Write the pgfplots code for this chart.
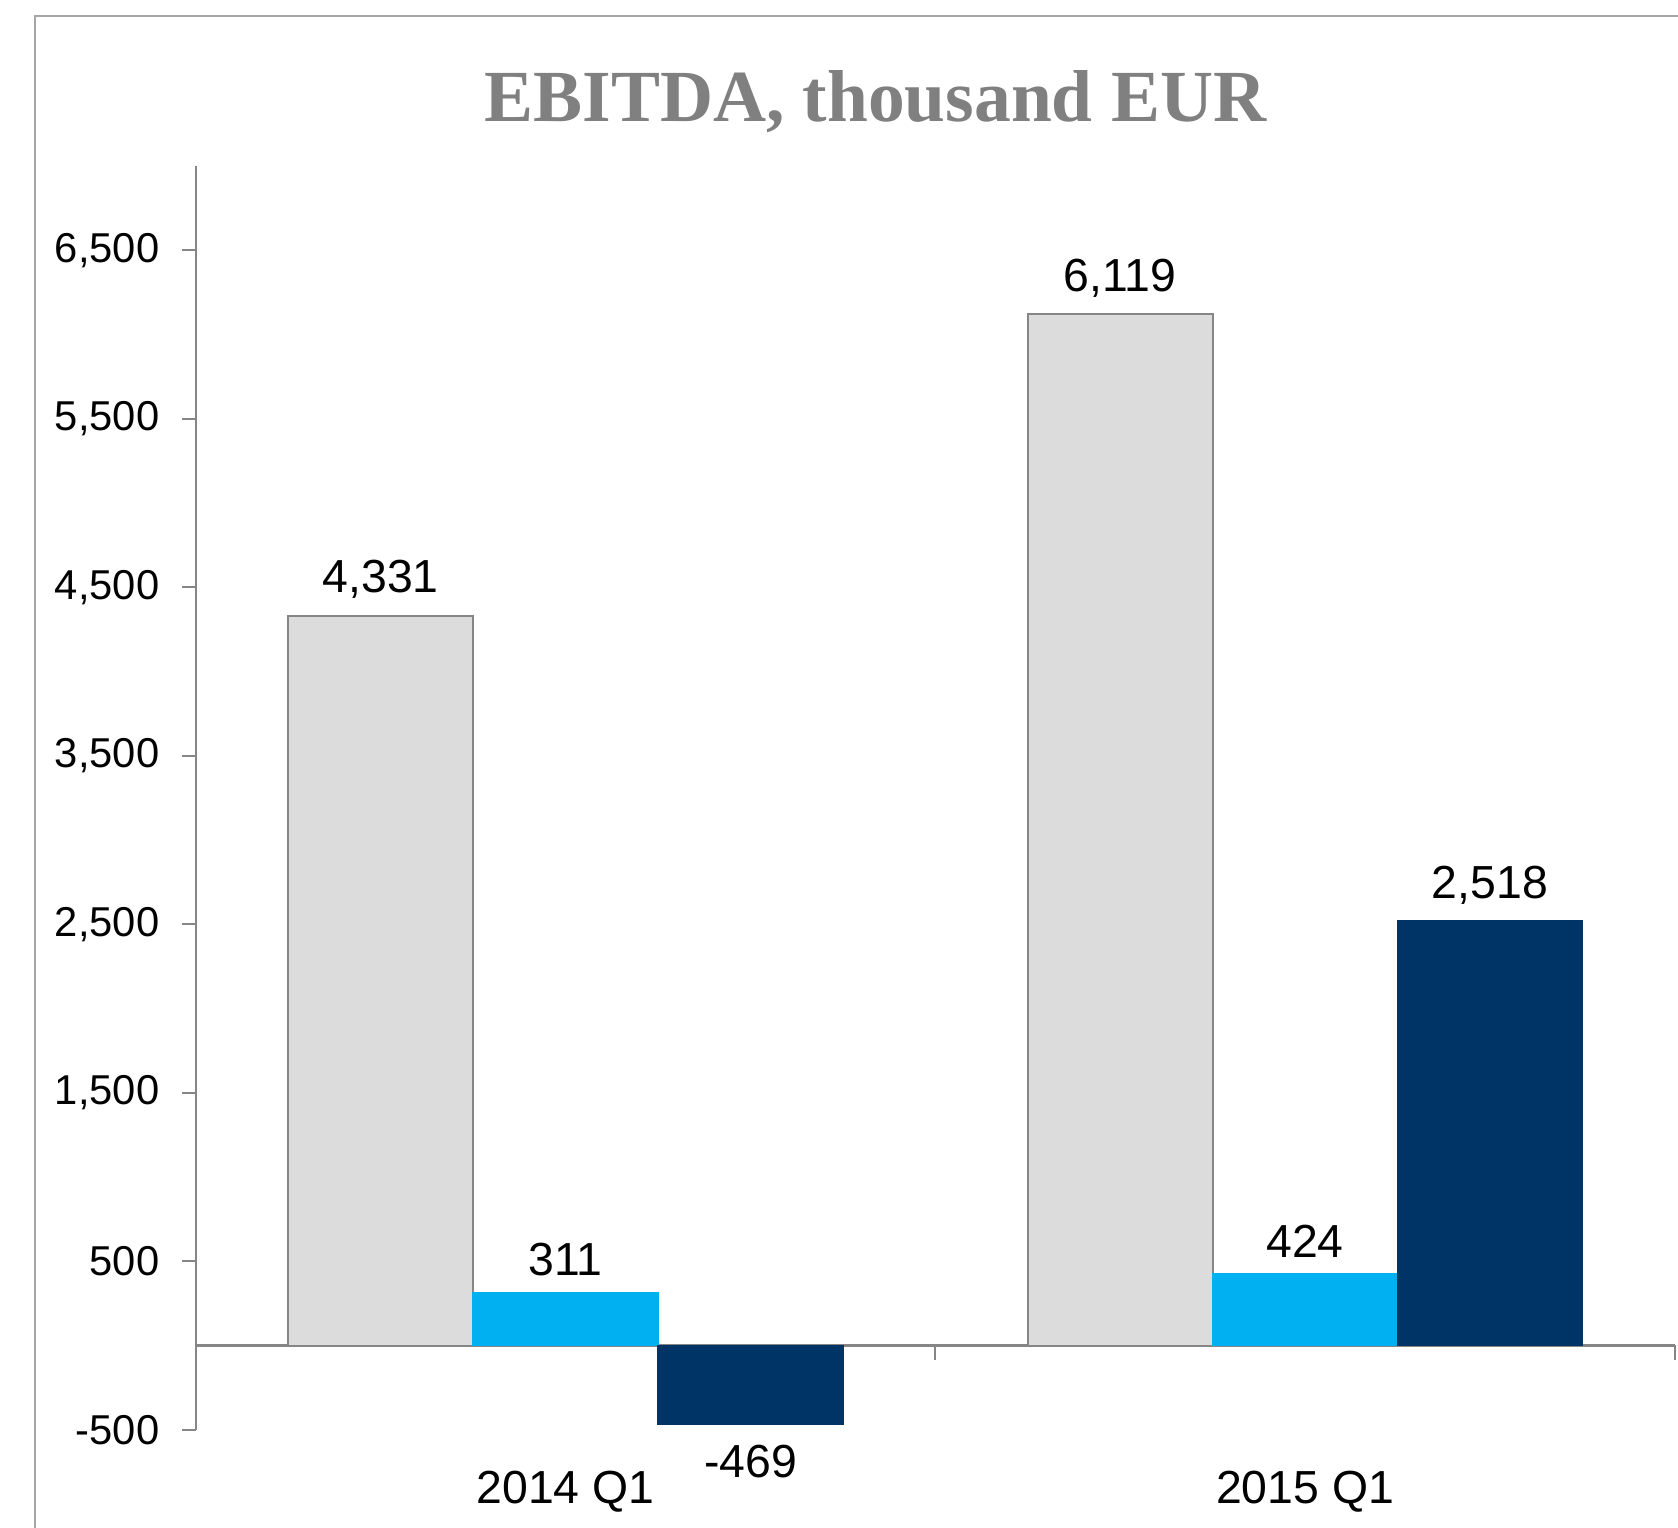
\documentclass[border=0pt]{standalone}
\usepackage{fontspec}
\setmainfont{Liberation Sans}
\newfontfamily\titlefont{Liberation Serif}
\usepackage{pgfplots}
\pgfplotsset{compat=1.18}

\definecolor{framegray}{RGB}{166,166,166}
\definecolor{axisgray}{RGB}{134,134,134}
\definecolor{titlegray}{RGB}{128,128,128}
\definecolor{barlight}{RGB}{220,220,220}
\definecolor{baredge}{RGB}{134,134,134}
\definecolor{barcyan}{RGB}{0,176,240}
\definecolor{barnavy}{RGB}{0,51,102}

\begin{document}
\begin{tikzpicture}
\useasboundingbox (-54.9pt,-27.3pt) rectangle (415.5pt,400.8pt);
\draw[framegray, line width=0.6pt] (-45pt,-80pt) rectangle (460pt,396.3pt);

\begin{axis}[
scale only axis,
width=414.6pt, height=354.3pt,
xmin=-0.5, xmax=1.5,
ymin=-500, ymax=7000,
clip=false,
axis x line*=bottom,
axis y line*=left,
x axis line style={draw=none},
y axis line style={draw=axisgray, line width=0.6pt},
xtick={0,1},
xticklabels={2014 Q1,2015 Q1},
x tick style={draw=none},
xticklabel style={font=\fontsize{13}{15}\selectfont, yshift=-4pt},
ytick={-500,500,1500,2500,3500,4500,5500,6500},
y tick style={draw=axisgray, line width=0.6pt},
yticklabel style={font=\fontsize{11.7}{14}\selectfont, xshift=-2.7pt},
tick align=outside,
major tick length=4pt,
/pgf/number format/assume math mode=true,
/pgf/number format/1000 sep={,},
ybar,
bar width=0.25,
nodes near coords,
visualization depends on={y \as \rawy},
nodes near coords style={font=\fontsize{13}{15}\selectfont, text=black,
  yshift={\rawy<0 ? -2.2 : 1.2}},
]
\draw[axisgray, line width=0.6pt] (axis cs:-0.5,0) -- (axis cs:1.5,0);
\draw[axisgray, line width=0.6pt] (axis cs:0.5,0) -- ++(0pt,-4pt);
\draw[axisgray, line width=0.6pt] (axis cs:1.5,0) -- ++(0pt,-4pt);

\addplot[fill=barlight, draw=baredge, line width=0.5pt, bar shift=-0.25]
coordinates {(0,4331) (1,6119)};
\addplot[fill=barcyan, draw=barcyan, bar shift=0]
coordinates {(0,311) (1,424)};
\addplot[fill=barnavy, draw=barnavy, bar shift=0.25]
coordinates {(0,-469) (1,2518)};

\node[anchor=base, text=titlegray, font=\titlefont\bfseries\fontsize{20.6}{24}\selectfont]
at ([yshift=12.5pt]axis description cs:0.4595,1) {EBITDA, thousand EUR};
\end{axis}
\end{tikzpicture}
\end{document}
